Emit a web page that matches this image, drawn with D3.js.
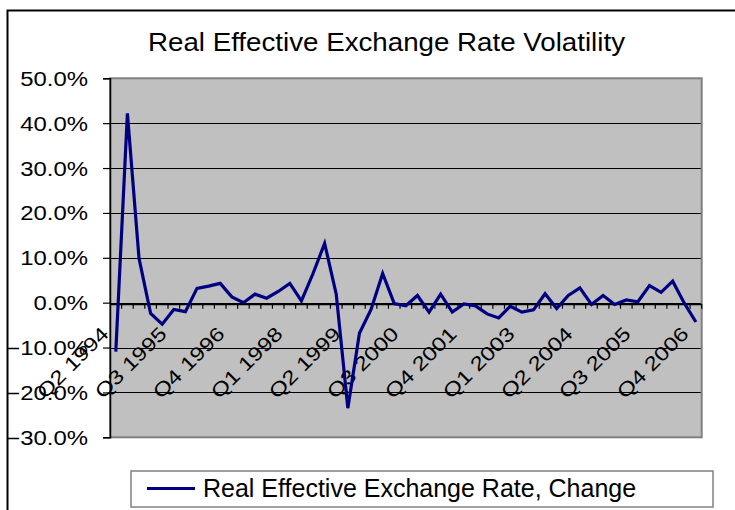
<!DOCTYPE html>
<html>
<head>
<meta charset="utf-8">
<script src="https://cdn.jsdelivr.net/npm/d3@7/dist/d3.min.js"></script>
<style>
  html, body { margin: 0; padding: 0; background: #fff; }
  svg { display: block; font-family: Arial, "Liberation Sans", sans-serif; }
</style>
</head>
<body>
<svg id="chart" width="735" height="510"></svg>
<script>
// Quarterly categories, Q2 1994 .. Q4 2006
const categories = [
  "Q2 1994","Q3 1994","Q4 1994",
  "Q1 1995","Q2 1995","Q3 1995","Q4 1995",
  "Q1 1996","Q2 1996","Q3 1996","Q4 1996",
  "Q1 1997","Q2 1997","Q3 1997","Q4 1997",
  "Q1 1998","Q2 1998","Q3 1998","Q4 1998",
  "Q1 1999","Q2 1999","Q3 1999","Q4 1999",
  "Q1 2000","Q2 2000","Q3 2000","Q4 2000",
  "Q1 2001","Q2 2001","Q3 2001","Q4 2001",
  "Q1 2002","Q2 2002","Q3 2002","Q4 2002",
  "Q1 2003","Q2 2003","Q3 2003","Q4 2003",
  "Q1 2004","Q2 2004","Q3 2004","Q4 2004",
  "Q1 2005","Q2 2005","Q3 2005","Q4 2005",
  "Q1 2006","Q2 2006","Q3 2006","Q4 2006"
];

// Quarter-on-quarter change of the real effective exchange rate, in percent
const reerChange = [
  -10.9, 42.2, 9.9, -2.4, -4.8, -1.5, -2.0, 3.2, 3.7, 4.3,
  1.3, 0.0, 1.9, 1.0, 2.5, 4.3, 0.4, 6.5, 13.2, 1.9,
  -23.5, -6.8, -1.5, 6.5, -0.2, -0.7, 1.6, -2.1, 1.9, -2.1,
  -0.3, -0.7, -2.5, -3.4, -0.8, -2.1, -1.6, 2.0, -1.3, 1.6,
  3.3, -0.4, 1.6, -0.4, 0.6, 0.2, 3.8, 2.3, 4.8, -0.1,
  -4.3
];

// Category labels shown on the axis (every fifth quarter)
const xTickLabels = ["Q2 1994","Q3 1995","Q4 1996","Q1 1998","Q2 1999","Q3 2000",
                     "Q4 2001","Q1 2003","Q2 2004","Q3 2005","Q4 2006"];
const yTicks = [-30, -20, -10, 0, 10, 20, 30, 40, 50];

const chartTitle = "Real Effective Exchange Rate Volatility";
const seriesName = "Real Effective Exchange Rate, Change";

const svg = d3.select("#chart");
const plot = { left: 110, right: 701.7, top: 78.3, bottom: 437.3 };
const axisFont = 19.6, axisStretch = 1.22;

const x = d3.scaleBand().domain(categories).range([plot.left, plot.right]).paddingInner(0).paddingOuter(0);
const y = d3.scaleLinear().domain([-30, 50]).range([plot.bottom, plot.top]);
const xc = d => x(d) + x.bandwidth() / 2;

// Outer chart frame (runs off the right and bottom edges)
svg.append("path")
  .attr("d", "M7.5,520 L7.5,10.5 L745,10.5")
  .attr("fill", "none").attr("stroke", "#000").attr("stroke-width", 2);

// Title
svg.append("text")
  .attr("x", 386.5).attr("y", 51)
  .attr("text-anchor", "middle")
  .attr("font-size", 25.5)
  .attr("textLength", 477).attr("lengthAdjust", "spacingAndGlyphs")
  .attr("fill", "#000")
  .text(chartTitle);

// Plot area
svg.append("rect")
  .attr("x", plot.left).attr("y", plot.top)
  .attr("width", plot.right - plot.left).attr("height", plot.bottom - plot.top)
  .attr("fill", "#c0c0c0");

// Horizontal gridlines
svg.append("g").selectAll("line")
  .data(yTicks.filter(v => v > -30 && v < 50))
  .join("line")
  .attr("x1", plot.left).attr("x2", plot.right)
  .attr("y1", d => Math.round(y(d)) + 0.5).attr("y2", d => Math.round(y(d)) + 0.5)
  .attr("stroke", "#000").attr("stroke-width", 1);

svg.append("rect")
  .attr("x", plot.left).attr("y", plot.top)
  .attr("width", plot.right - plot.left).attr("height", plot.bottom - plot.top)
  .attr("fill", "none").attr("stroke", "#808080").attr("stroke-width", 2);

// Value axis
const yAxis = d3.axisLeft(y).tickValues(yTicks).tickSize(7).tickPadding(0)
  .tickFormat(d => d3.format(".1f")(d) + "%");
const gy = svg.append("g").attr("transform", `translate(${plot.left},0)`).call(yAxis);
gy.select(".domain").attr("stroke", "#000").attr("stroke-width", 1.5);
gy.selectAll(".tick line").attr("stroke", "#000").attr("stroke-width", 1.2);
gy.selectAll(".tick text").remove();
gy.selectAll(".tick").append("text")
  .attr("text-anchor", "end")
  .attr("font-size", axisFont)
  .attr("fill", "#000")
  .attr("dy", "0.36em")
  .attr("transform", `translate(-22,0) scale(${axisStretch},1)`)
  .text(d => d3.format(".1f")(d) + "%");

// Category axis crossing near zero, ticks between categories
const axisY = y(0) + 2;
svg.append("line")
  .attr("x1", plot.left).attr("x2", plot.right)
  .attr("y1", axisY).attr("y2", axisY)
  .attr("stroke", "#000").attr("stroke-width", 1.2);
const boundaries = categories.map(c => x(c)).concat([plot.right]);
svg.append("g").selectAll("line")
  .data(boundaries.slice(1))
  .join("line")
  .attr("x1", d => d).attr("x2", d => d)
  .attr("y1", axisY - 1).attr("y2", axisY + 4)
  .attr("stroke", "#000").attr("stroke-width", 1.2);

// Rotated category labels
svg.append("g").selectAll("text")
  .data(xTickLabels)
  .join("text")
  .attr("text-anchor", "end")
  .attr("font-size", axisFont)
  .attr("fill", "#000")
  .attr("transform", d => `translate(${xc(d) - 6},335) rotate(-45) scale(${axisStretch},1)`)
  .text(d => d);

// Series line
const line = d3.line()
  .x((d, i) => xc(categories[i]))
  .y(d => y(d));
svg.append("path")
  .datum(reerChange)
  .attr("d", line)
  .attr("fill", "none")
  .attr("stroke", "#000080")
  .attr("stroke-width", 3.2)
  .attr("stroke-linejoin", "miter");

// Legend
const legend = svg.append("g");
legend.append("rect")
  .attr("x", 131).attr("y", 471)
  .attr("width", 582).attr("height", 36)
  .attr("fill", "#fff").attr("stroke", "#808080").attr("stroke-width", 1.5);
legend.append("line")
  .attr("x1", 147).attr("x2", 195)
  .attr("y1", 488.5).attr("y2", 488.5)
  .attr("stroke", "#000080").attr("stroke-width", 3);
legend.append("text")
  .attr("x", 203).attr("y", 497)
  .attr("font-size", 25)
  .attr("fill", "#000")
  .text(seriesName);
</script>
</body>
</html>
